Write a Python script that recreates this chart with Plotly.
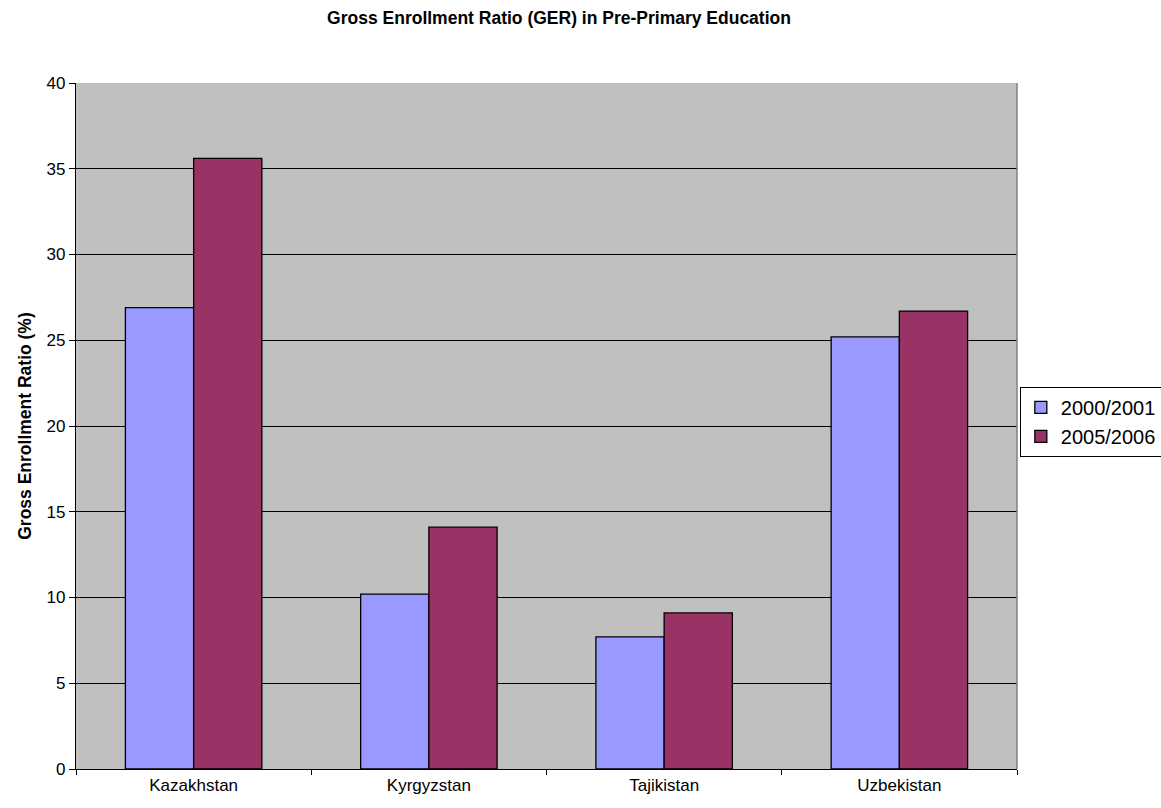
import plotly.graph_objects as go

countries = ["Kazakhstan", "Kyrgyzstan", "Tajikistan", "Uzbekistan"]
ger_2000 = [26.9, 10.2, 7.7, 25.2]
ger_2005 = [35.6, 14.1, 9.1, 26.7]
y_ticks = [0, 5, 10, 15, 20, 25, 30, 35, 40]

font_family = "Liberation Sans, Arial, sans-serif"

fig = go.Figure()
fig.add_trace(go.Bar(
    x=countries, y=ger_2000, name="2000/2001",
    marker=dict(color="#9999FF", line=dict(color="black", width=1.3)),
))
fig.add_trace(go.Bar(
    x=countries, y=ger_2005, name="2005/2006",
    marker=dict(color="#993366", line=dict(color="black", width=1.3)),
))

fig.update_layout(
    width=1161, height=808,
    margin=dict(l=76, r=144, t=83, b=39, autoexpand=False),
    paper_bgcolor="white",
    plot_bgcolor="#C0C0C0",
    barmode="group",
    bargap=0.42,
    bargroupgap=0,
    font=dict(family=font_family, size=17, color="black"),
    title=dict(
        text="<b>Gross Enrollment Ratio (GER) in Pre-Primary Education</b>",
        x=559 / 1161, xref="container", xanchor="center",
        y=1 - 18 / 808, yanchor="middle",
        font=dict(family=font_family, size=17.5, color="black"),
    ),
    legend=dict(
        x=1.003, xanchor="left", y=0.506, yanchor="middle",
        bgcolor="white", bordercolor="black", borderwidth=1,
        font=dict(family=font_family, size=20, color="black"),
        traceorder="normal",
        itemwidth=30,
    ),
    showlegend=True,
)

fig.update_xaxes(
    type="category",
    showline=True, linecolor="black", linewidth=1.3,
    ticks="outside", tickson="boundaries", ticklen=5, tickcolor="black",
    tickfont=dict(family=font_family, size=17, color="black"),
    showgrid=False,
)
fig.update_yaxes(
    range=[0, 40], tickvals=y_ticks,
    showline=True, linecolor="black", linewidth=1.3,
    ticks="outside", ticklen=6, tickcolor="black",
    tickfont=dict(family=font_family, size=17, color="black"),
    showgrid=True, gridcolor="black", gridwidth=1.3,
    zeroline=False,
    title=dict(text="<b>Gross Enrollment Ratio (%)</b>",
               font=dict(family=font_family, size=17.5, color="black"),
               standoff=10),
)

# grey right edge of the plotting area
fig.add_shape(type="line", xref="paper", yref="paper",
              x0=1, x1=1, y0=0, y1=1,
              line=dict(color="#808080", width=1.5))

fig.write_html("out.html")
